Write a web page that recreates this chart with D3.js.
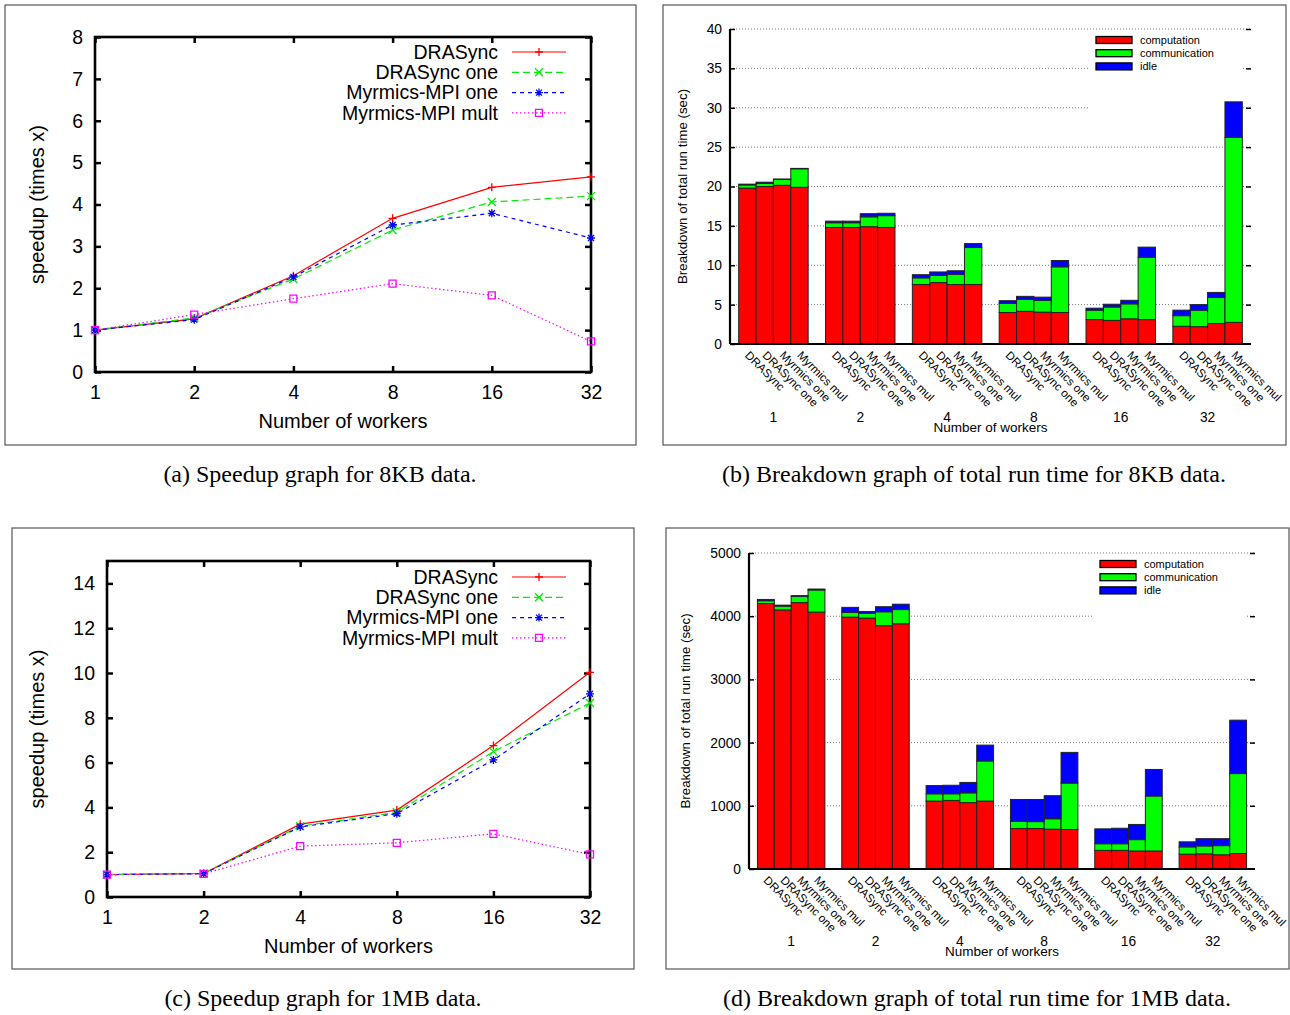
<!DOCTYPE html>
<html>
<head>
<meta charset="utf-8">
<script src="https://cdn.jsdelivr.net/npm/d3@7"></script>
<style>
  body { margin: 0; background: #fff; }
  svg text { font-family: "Liberation Sans", Arial, Helvetica, sans-serif; fill: #000; }
  svg text.caption { font-family: "Liberation Serif", "Times New Roman", serif; }
</style>
</head>
<body>
<div id="chart"></div>
<script>
// ---- data ----
var workers = [1, 2, 4, 8, 16, 32];
var lineNames = ["DRASync", "DRASync one", "Myrmics-MPI one", "Myrmics-MPI mult"];

// speedup, 8KB data
var sp8DRASync      = [1.0, 1.27, 2.30, 3.67, 4.41, 4.66];
var sp8DRASyncOne   = [1.0, 1.29, 2.22, 3.39, 4.06, 4.20];
var sp8MyrmicsOne   = [1.0, 1.25, 2.27, 3.51, 3.79, 3.20];
var sp8MyrmicsMult  = [1.0, 1.37, 1.75, 2.11, 1.83, 0.73];

// speedup, 1MB data
var sp1DRASync      = [1.0, 1.05, 3.25, 3.88, 6.76, 10.03];
var sp1DRASyncOne   = [1.0, 1.05, 3.16, 3.78, 6.49, 8.66];
var sp1MyrmicsOne   = [1.0, 1.04, 3.13, 3.72, 6.12, 9.07];
var sp1MyrmicsMult  = [1.0, 1.03, 2.27, 2.42, 2.82, 1.90];

var barNames = ["DRASync", "DRASync one", "Myrmics one", "Myrmics mul"];
var parts = ["computation", "communication", "idle"];

// breakdown, 8KB data (sec), one row per worker count
var comp8 = [[19.8, 20.0, 20.15, 19.9], [14.8, 14.8, 14.9, 14.8], [7.55, 7.8, 7.55, 7.55],
             [4.0, 4.15, 4.05, 4.0], [3.1, 3.0, 3.2, 3.1], [2.25, 2.2, 2.6, 2.75]];
var comm8 = [[0.4, 0.4, 0.75, 2.35], [0.6, 0.6, 1.25, 1.5], [0.85, 0.9, 1.3, 4.7],
             [1.15, 1.5, 1.5, 5.8], [1.2, 1.7, 1.9, 7.9], [1.35, 2.1, 3.3, 23.5]];
var idle8 = [[0.1, 0.15, 0.05, 0.05], [0.2, 0.2, 0.4, 0.3], [0.4, 0.45, 0.45, 0.5],
             [0.35, 0.4, 0.4, 0.8], [0.25, 0.35, 0.45, 1.3], [0.7, 0.7, 0.65, 4.5]];

// breakdown, 1MB data (sec)
var comp1M = [[4200, 4100, 4215, 4065], [3985, 3970, 3850, 3880], [1075, 1085, 1050, 1075],
              [640, 640, 630, 625], [295, 295, 285, 285], [235, 240, 225, 245]];
var comm1M = [[45, 60, 100, 350], [75, 75, 220, 225], [115, 105, 155, 635],
              [115, 110, 165, 735], [105, 105, 180, 870], [115, 125, 145, 1265]];
var idle1M = [[20, 15, 10, 15], [80, 30, 80, 85], [130, 135, 165, 250],
              [345, 350, 365, 485], [235, 245, 240, 420], [80, 115, 110, 845]];

// ---- styles ----
var lineColors = ["#ff0000", "#00ee00", "#0000ff", "#ff00ff"];
var lineDash = [null, "7,4", "4,4", "1.5,2.5"];
var markers = ["plus", "cross", "star", "square"];
var partColors = ["#ff0000", "#00ff00", "#0000ff"];

var svg = d3.select("#chart").append("svg")
    .attr("width", 1290)
    .attr("height", 1015);

svg.append("rect").attr("width", 1290).attr("height", 1015).attr("fill", "#fff");

function markerPath(type, s) {
    if (type == "plus") return `M${-s},0H${s}M0,${-s}V${s}`;
    if (type == "cross") return `M${-s},${-s}L${s},${s}M${-s},${s}L${s},${-s}`;
    if (type == "star") return `M${-s},0H${s}M0,${-s}V${s}M${-s*0.75},${-s*0.75}L${s*0.75},${s*0.75}M${-s*0.75},${s*0.75}L${s*0.75},${-s*0.75}`;
    return `M${-s},${-s}H${s}V${s}H${-s}Z`;
}

function drawSpeedup(cfg) {
    var g = svg.append("g");
    g.append("rect")
        .attr("x", cfg.frame[0]).attr("y", cfg.frame[1])
        .attr("width", cfg.frame[2]).attr("height", cfg.frame[3])
        .attr("fill", "none").attr("stroke", "#555").attr("stroke-width", 1.2);

    var xScale = d3.scaleLog().base(2).domain([1, 32]).range([cfg.left, cfg.right]);
    var yScale = d3.scaleLinear().domain([0, cfg.yMax]).range([cfg.bottom, cfg.top]);
    var yTicks = d3.range(0, cfg.yTickMax + 0.001, cfg.yStep);

    var axes = [
        g.append("g").attr("transform", `translate(${cfg.left},0)`)
            .call(d3.axisLeft(yScale).tickValues(yTicks).tickSize(-6).tickPadding(12).tickFormat(d3.format("d"))),
        g.append("g").attr("transform", `translate(${cfg.right},0)`)
            .call(d3.axisRight(yScale).tickValues(yTicks).tickSize(-6).tickFormat("")),
        g.append("g").attr("transform", `translate(0,${cfg.bottom})`)
            .call(d3.axisBottom(xScale).tickValues(workers).tickSize(-6).tickPadding(13).tickFormat(d3.format("d"))),
        g.append("g").attr("transform", `translate(0,${cfg.top})`)
            .call(d3.axisTop(xScale).tickValues(workers).tickSize(-6).tickFormat(""))
    ];
    axes.forEach(function (a) {
        a.select(".domain").remove();
        a.selectAll(".tick line").attr("stroke", "#000").attr("stroke-width", 2.5);
        a.selectAll("text").attr("font-size", "19.5px").attr("fill", "#000");
    });

    g.append("rect")
        .attr("x", cfg.left).attr("y", cfg.top)
        .attr("width", cfg.right - cfg.left).attr("height", cfg.bottom - cfg.top)
        .attr("fill", "none").attr("stroke", "#000").attr("stroke-width", 2.6);

    var line = d3.line()
        .x(function (d, i) { return xScale(workers[i]); })
        .y(function (d) { return yScale(d); });

    cfg.series.forEach(function (values, k) {
        g.append("path")
            .attr("d", line(values))
            .attr("fill", "none")
            .attr("stroke", lineColors[k])
            .attr("stroke-width", 1.2)
            .attr("stroke-dasharray", lineDash[k]);
        g.selectAll(null)
            .data(values)
            .enter()
            .append("path")
            .attr("transform", function (d, i) { return `translate(${xScale(workers[i])},${yScale(d)})`; })
            .attr("d", markerPath(markers[k], markers[k] == "square" ? 3.5 : 4))
            .attr("fill", "none")
            .attr("stroke", lineColors[k])
            .attr("stroke-width", 1.3);
    });

    // legend
    lineNames.forEach(function (name, k) {
        var ly = cfg.legendY + k * 20.3;
        g.append("text")
            .attr("x", cfg.legendX).attr("y", ly).attr("dy", "0.35em")
            .attr("text-anchor", "end").attr("font-size", "19.5px")
            .text(name);
        g.append("line")
            .attr("x1", cfg.legendX + 14).attr("x2", cfg.legendX + 68)
            .attr("y1", ly).attr("y2", ly)
            .attr("stroke", lineColors[k]).attr("stroke-width", 1.2)
            .attr("stroke-dasharray", lineDash[k]);
        g.append("path")
            .attr("transform", `translate(${cfg.legendX + 41},${ly})`)
            .attr("d", markerPath(markers[k], markers[k] == "square" ? 3.5 : 4))
            .attr("fill", "none").attr("stroke", lineColors[k]).attr("stroke-width", 1.3);
    });

    g.append("text")
        .attr("x", (cfg.left + cfg.right) / 2).attr("y", cfg.bottom + 56)
        .attr("text-anchor", "middle").attr("font-size", "20px")
        .text("Number of workers");
    g.append("text")
        .attr("transform", `translate(44,${(cfg.top + cfg.bottom) / 2}) rotate(-90)`)
        .attr("text-anchor", "middle").attr("font-size", "20px")
        .text("speedup (times x)");

    g.append("text").attr("class", "caption")
        .attr("x", cfg.captionX).attr("y", cfg.captionY)
        .attr("text-anchor", "middle").attr("font-size", "24px")
        .text(cfg.caption);
}

function drawBreakdown(cfg) {
    var g = svg.append("g");
    var clipId = "clip" + cfg.id;
    svg.append("clipPath").attr("id", clipId).append("rect")
        .attr("x", cfg.frame[0]).attr("y", cfg.frame[1])
        .attr("width", cfg.frame[2]).attr("height", cfg.frame[3]);
    g.append("rect")
        .attr("x", cfg.frame[0]).attr("y", cfg.frame[1])
        .attr("width", cfg.frame[2]).attr("height", cfg.frame[3])
        .attr("fill", "none").attr("stroke", "#555").attr("stroke-width", 1.2);
    var inner = g.append("g").attr("clip-path", `url(#${clipId})`);

    // 6 groups of 4 bars plus a one-bar gap -> 30 slots
    var xScale = d3.scaleLinear().domain([0, 30]).range([cfg.left, cfg.right]);
    var yScale = d3.scaleLinear().domain([0, cfg.yMax]).range([cfg.bottom, cfg.top]);
    var yTicks = d3.range(0, cfg.yMax + 0.001, cfg.yStep);
    var bw = xScale(1) - xScale(0);

    // grid, broken behind the key box
    yTicks.slice(1).forEach(function (t) {
        var yy = yScale(t);
        var broken = yy > cfg.keyBox[1] && yy < cfg.keyBox[1] + cfg.keyBox[3];
        inner.append("line")
            .attr("x1", cfg.left).attr("x2", broken ? cfg.keyBox[0] : cfg.right)
            .attr("y1", yy).attr("y2", yy)
            .attr("stroke", "#777").attr("stroke-width", 1).attr("stroke-dasharray", "1,2");
        if (broken) {
            inner.append("line")
                .attr("x1", cfg.right - 8).attr("x2", cfg.right)
                .attr("y1", yy).attr("y2", yy)
                .attr("stroke", "#777").attr("stroke-width", 1).attr("stroke-dasharray", "1,2");
        }
    });

    var rows = [];
    cfg.comp.forEach(function (grp, gi) {
        grp.forEach(function (v, bi) {
            rows.push({ group: gi, bar: bi, computation: v, communication: cfg.comm[gi][bi], idle: cfg.idle[gi][bi] });
        });
    });
    var stacked = d3.stack().keys(parts)(rows);

    stacked.forEach(function (layer, k) {
        inner.selectAll(null)
            .data(layer)
            .enter()
            .append("rect")
            .attr("x", function (d) { return xScale(0.5 + d.data.group * 5 + d.data.bar); })
            .attr("width", bw)
            .attr("y", function (d) { return yScale(d[1]); })
            .attr("height", function (d) { return yScale(d[0]) - yScale(d[1]); })
            .attr("fill", partColors[k])
            .attr("stroke", "#222")
            .attr("stroke-width", 1);
    });

    // axes
    var ya = inner.append("g").attr("transform", `translate(${cfg.left},0)`)
        .call(d3.axisLeft(yScale).tickValues(yTicks).tickSize(-5).tickPadding(8).tickFormat(d3.format("d")));
    ya.select(".domain").remove();
    ya.selectAll(".tick line").attr("stroke", "#000").attr("stroke-width", 1.5);
    ya.selectAll("text").attr("font-size", "13.8px").attr("fill", "#000");

    var ry = inner.append("g").attr("transform", `translate(${cfg.right},0)`)
        .call(d3.axisRight(yScale).tickValues(yTicks.slice(1)).tickSize(-5).tickFormat(""));
    ry.select(".domain").remove();
    ry.selectAll(".tick line").attr("stroke", "#000").attr("stroke-width", 1.5);

    inner.append("line")
        .attr("x1", cfg.left).attr("x2", cfg.left)
        .attr("y1", cfg.bottom).attr("y2", cfg.top)
        .attr("stroke", "#000").attr("stroke-width", 2.2);
    inner.append("line")
        .attr("x1", cfg.left).attr("x2", cfg.right)
        .attr("y1", cfg.bottom).attr("y2", cfg.bottom)
        .attr("stroke", "#000").attr("stroke-width", 2.2);

    // bar labels, rotated under each bar
    inner.selectAll(null)
        .data(rows)
        .enter()
        .append("text")
        .attr("transform", function (d) {
            var cx = xScale(1 + d.group * 5 + d.bar);
            return `translate(${cx - 3},${cfg.bottom + 12}) rotate(45)`;
        })
        .attr("font-size", "11.6px")
        .text(function (d) { return barNames[d.bar]; });

    // group labels
    inner.selectAll(null)
        .data(workers)
        .enter()
        .append("text")
        .attr("x", function (d, i) { return xScale(2.5 + i * 5); })
        .attr("y", cfg.groupY)
        .attr("text-anchor", "middle").attr("font-size", "13.8px")
        .text(function (d) { return d; });

    inner.append("text")
        .attr("x", (cfg.left + cfg.right) / 2).attr("y", cfg.groupY + 10)
        .attr("text-anchor", "middle").attr("font-size", "13.5px")
        .text("Number of workers");
    inner.append("text")
        .attr("transform", `translate(${cfg.yLabelX},${(cfg.top + cfg.bottom) / 2}) rotate(-90)`)
        .attr("text-anchor", "middle").attr("font-size", "13.3px")
        .text("Breakdown of total run time (sec)");

    // legend
    parts.forEach(function (p, k) {
        var ly = cfg.legendY + k * 13.2;
        inner.append("rect")
            .attr("x", cfg.legendX).attr("y", ly - 3.5)
            .attr("width", 36).attr("height", 7)
            .attr("fill", partColors[k]).attr("stroke", "#000").attr("stroke-width", 1.3);
        inner.append("text")
            .attr("x", cfg.legendX + 44).attr("y", ly).attr("dy", "0.35em")
            .attr("font-size", "11px")
            .text(p);
    });

    g.append("text").attr("class", "caption")
        .attr("x", cfg.captionX).attr("y", cfg.captionY)
        .attr("text-anchor", "middle").attr("font-size", "24px")
        .text(cfg.caption);
}

drawSpeedup({
    frame: [5, 5, 631, 440],
    left: 95, right: 591, top: 37, bottom: 372,
    yMax: 8, yTickMax: 8, yStep: 1,
    series: [sp8DRASync, sp8DRASyncOne, sp8MyrmicsOne, sp8MyrmicsMult],
    legendX: 498, legendY: 52,
    caption: "(a) Speedup graph for 8KB data.", captionX: 320, captionY: 482
});

drawSpeedup({
    frame: [12, 528, 622, 441],
    left: 107, right: 590, top: 561, bottom: 897,
    yMax: 15, yTickMax: 14, yStep: 2,
    series: [sp1DRASync, sp1DRASyncOne, sp1MyrmicsOne, sp1MyrmicsMult],
    legendX: 498, legendY: 577,
    caption: "(c) Speedup graph for 1MB data.", captionX: 323, captionY: 1006
});

drawBreakdown({
    id: "b",
    frame: [663, 5, 623, 440],
    left: 730, right: 1251, top: 29, bottom: 344,
    yMax: 40, yStep: 5,
    comp: comp8, comm: comm8, idle: idle8,
    keyBox: [1088, 32, 160, 85],
    legendX: 1096, legendY: 40, groupY: 422, yLabelX: 687,
    caption: "(b) Breakdown graph of total run time for 8KB data.", captionX: 974, captionY: 482
});

drawBreakdown({
    id: "d",
    frame: [666, 528, 623, 441],
    left: 749, right: 1255, top: 553, bottom: 869,
    yMax: 5000, yStep: 1000,
    comp: comp1M, comm: comm1M, idle: idle1M,
    keyBox: [1092, 556, 160, 80],
    legendX: 1100, legendY: 564, groupY: 946, yLabelX: 690,
    caption: "(d) Breakdown graph of total run time for 1MB data.", captionX: 977, captionY: 1006
});
</script>
</body>
</html>
